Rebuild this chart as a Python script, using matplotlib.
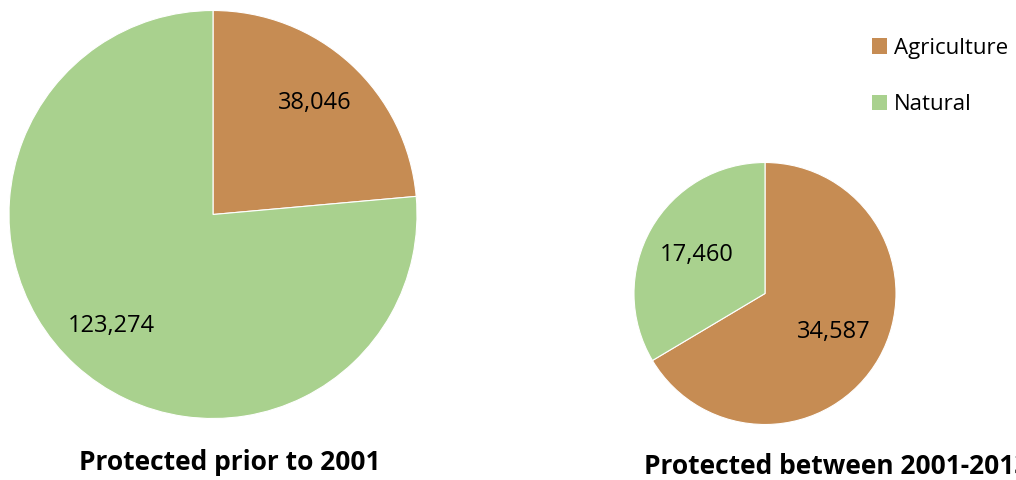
import matplotlib.pyplot as plt
from matplotlib.patches import Patch

plt.rcParams['font.family'] = ['Open Sans', 'DejaVu Sans']

categories = ["Agriculture", "Natural"]
prior_2001 = [38046, 123274]
between_2001_2013 = [34587, 17460]
titles = ["Protected prior to 2001", "Protected between 2001-2013"]
colors = ["#C68C53", "#A9D18E"]

W, H = 1016, 480


def pie_axes(fig, cx, cy, r):
    # pixel centre/radius -> figure fraction axes
    ax = fig.add_axes([(cx - r) / W, (H - cy - r) / H, 2 * r / W, 2 * r / H])
    ax.axis("off")
    return ax


def fix_limits(ax):
    # pie() resets the limits to +-1.25, put them back so radius fills the axes
    ax.set_xlim(-1, 1)
    ax.set_ylim(-1, 1)
    ax.set_aspect("equal")


def fmt(values):
    total = sum(values)
    return lambda p: "{:,}".format(int(round(p * total / 100.0)))


fig = plt.figure(figsize=(W / 100, H / 100), dpi=100)

ax1 = pie_axes(fig, 213, 214.5, 204)
ax1.pie(prior_2001, colors=colors, startangle=90, counterclock=False,
        radius=1, autopct=fmt(prior_2001), pctdistance=0.74,
        wedgeprops=dict(linewidth=0.8, edgecolor="white"),
        textprops=dict(fontsize=17, color="black"))
fix_limits(ax1)

ax2 = pie_axes(fig, 765, 293.5, 131)
ax2.pie(between_2001_2013, colors=colors, startangle=90, counterclock=False,
        radius=1, autopct=fmt(between_2001_2013), pctdistance=0.6,
        wedgeprops=dict(linewidth=0.8, edgecolor="white"),
        textprops=dict(fontsize=17, color="black"))
fix_limits(ax2)

fig.text(230 / W, 1 - 462 / H, titles[0], ha="center", va="center",
         fontsize=19, fontweight="bold")
# the second title runs off the right edge, as in the original
fig.text(644 / W, 1 - 467 / H, titles[1], ha="left", va="center",
         fontsize=19, fontweight="bold")

handles = [Patch(facecolor=c, edgecolor="none") for c in colors]
fig.legend(handles, categories, loc="upper left",
           bbox_to_anchor=(863 / W, 1 - 29 / H), frameon=False,
           fontsize=16, handlelength=0.7, handleheight=0.7,
           handletextpad=0.3, labelspacing=1.6, borderaxespad=0)

fig.savefig("out.png", dpi=100)
